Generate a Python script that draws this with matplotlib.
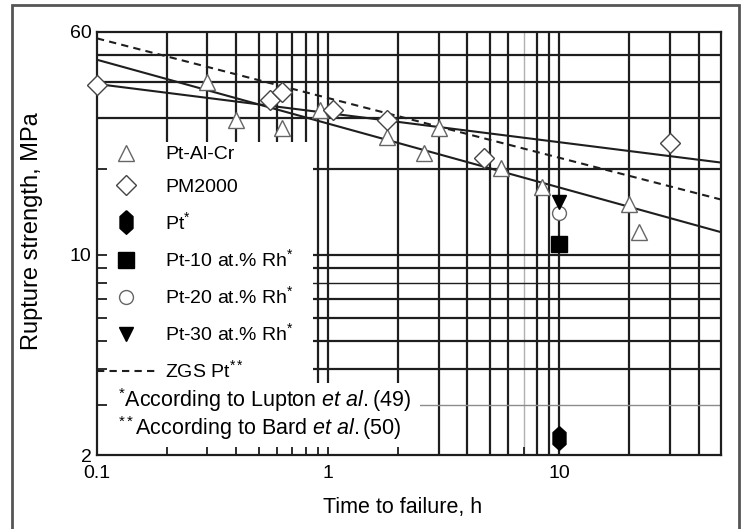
import matplotlib
matplotlib.use("Agg")
import matplotlib.pyplot as plt
from matplotlib.patches import Rectangle

plt.rcParams['font.family'] = ['Liberation Sans', 'DejaVu Sans']
plt.rcParams['mathtext.fontset'] = 'custom'
plt.rcParams['mathtext.rm'] = 'Liberation Sans'
plt.rcParams['mathtext.it'] = 'Liberation Sans:italic'

# ---- measured creep-rupture data (time h, stress MPa) ----
ptalcr_t = [0.3, 0.4, 0.63, 0.92, 1.8, 2.6, 3.0, 5.6, 8.4, 20, 22]
ptalcr_s = [40, 29.6, 27.8, 32, 25.8, 22.7, 27.8, 20.1, 17.3, 15.0, 12.0]

pm2000_t = [0.1, 0.56, 0.63, 1.05, 1.8, 4.7, 30]
pm2000_s = [39.2, 34.8, 37.1, 32.1, 29.6, 21.8, 24.6]

pt_t, pt_s = [10], [2.3]
pt10rh_t, pt10rh_s = [10], [10.9]
pt20rh_t, pt20rh_s = [10], [14.0]
pt30rh_t, pt30rh_s = [10], [15.3]

# ---- fitted lines (end points over plotted range) ----
fit_t = [0.1, 50]
ptalcr_fit = [48, 12]
pm2000_fit = [39.5, 21]
zgs_fit = [57, 15.6]

x_major = [0.1, 1, 10]
x_major_labels = ['0.1', '1', '10']
x_minor = [0.2, 0.3, 0.4, 0.5, 0.6, 0.7, 0.8, 0.9, 2, 3, 4, 5, 6, 7, 8, 9, 20, 30, 40]
y_major = [2, 10, 60]
y_major_labels = ['2', '10', '60']
y_minor = [3, 4, 5, 6, 7, 8, 9, 20, 30, 40, 50]

labels = ['Pt-Al-Cr', 'PM2000', 'Pt$^{*}$', 'Pt-10 at.% Rh$^{*}$',
          'Pt-20 at.% Rh$^{*}$', 'Pt-30 at.% Rh$^{*}$', 'ZGS Pt$^{**}$']
notes = [r'$^{*}$According to Lupton $\mathit{et\ al.}$(49)',
         r'$^{**}$According to Bard $\mathit{et\ al.}$(50)']

INK = '#1e1e1e'
W, H = 742, 529
fig = plt.figure(figsize=(W / 100, H / 100), dpi=100)
ax = fig.add_axes([97 / W, 1 - 455 / H, 624 / W, 423 / H])
ax.set_xscale('log')
ax.set_yscale('log')
ax.set_xlim(0.1, 50)
ax.set_ylim(2, 60)

# chart-paper style grid: every decade subdivision
grid_x = sorted(x_minor + [1, 10])
grid_y = sorted(y_minor + [10])
for gx in grid_x:
    c, w = ('#b0b0b0', 1.0) if gx == 7 else (INK, 1.6)
    ax.vlines(gx, 2, 60, colors=c, linewidth=w, zorder=0.8)
for gy in grid_y:
    c, w = ('#8c8c8c', 1.0) if gy == 3 else (INK, 1.0 if gy == 8 else 1.6)
    ax.hlines(gy, 0.1, 50, colors=c, linewidth=w, zorder=0.8)

# white areas behind legend and footnotes
ax.add_patch(Rectangle((0, 0.170), 0.346, 0.570, transform=ax.transAxes,
                       facecolor='white', edgecolor='none', zorder=1))
ax.add_patch(Rectangle((0, 0), 0.518, 0.170, transform=ax.transAxes,
                       facecolor='white', edgecolor='none', zorder=1))

# fits
ax.plot(fit_t, ptalcr_fit, color=INK, lw=1.5, zorder=2)
ax.plot(fit_t, pm2000_fit, color=INK, lw=1.5, zorder=2)
zgs, = ax.plot(fit_t, zgs_fit, color=INK, lw=1.5, dashes=(3.5, 2.5), zorder=2)

# data points
tri, = ax.plot(ptalcr_t, ptalcr_s, ls='none', marker='^', ms=11.5, mfc='white',
               mec='#666666', mew=1.0, zorder=3, clip_on=False)
dia, = ax.plot(pm2000_t, pm2000_s, ls='none', marker='D', ms=10, mfc='white',
               mec='#444444', mew=1.0, zorder=3, clip_on=False)
hexv = [(0, 1), (0.55, 0.5), (0.55, -0.5), (0, -1), (-0.55, -0.5), (-0.55, 0.5), (0, 1)]
pt, = ax.plot(pt_t, pt_s, ls='none', marker=hexv, ms=17, mfc='black',
              mec='black', zorder=3)
sq, = ax.plot(pt10rh_t, pt10rh_s, ls='none', marker='s', ms=12, mfc='black',
              mec='black', zorder=3)
circ, = ax.plot(pt20rh_t, pt20rh_s, ls='none', marker='o', ms=10, mfc='white',
                mec='#666666', mew=1.0, zorder=3)
dtri, = ax.plot(pt30rh_t, pt30rh_s, ls='none', marker='v', ms=10, mfc='black',
                mec='black', zorder=4)

leg = ax.legend([tri, dia, pt, sq, circ, dtri, zgs], labels,
                loc='upper left', bbox_to_anchor=(0, 0.731), frameon=False,
                fontsize=14, handlelength=3.0, handletextpad=0.5,
                labelspacing=0.78, borderpad=0, borderaxespad=0, numpoints=1)
leg.set_zorder(4)

ax.text(0.034, 0.130, notes[0], transform=ax.transAxes, fontsize=15.5,
        va='center', ha='left', zorder=4)
ax.text(0.034, 0.064, notes[1], transform=ax.transAxes, fontsize=15.5,
        va='center', ha='left', zorder=4)

# ticks and labels
ax.set_xticks(x_major)
ax.set_xticklabels(x_major_labels)
ax.set_xticks(x_minor, minor=True)
ax.set_xticklabels([], minor=True)
ax.set_yticks(y_major)
ax.set_yticklabels(y_major_labels)
ax.set_yticks(y_minor, minor=True)
ax.set_yticklabels([], minor=True)
ax.tick_params(which='both', direction='in', top=False, right=False,
               color=INK, width=1.3, labelsize=14)
ax.tick_params(axis='x', which='both', length=6, pad=7)
ax.tick_params(axis='y', which='both', length=7.5, pad=4)

for s in ax.spines.values():
    s.set_color(INK)
    s.set_linewidth(1.6)

ax.set_xlabel('Time to failure, h', fontsize=15.5)
ax.xaxis.set_label_coords(0.49, -0.100)
ax.set_ylabel('Rupture strength, MPa', fontsize=17)
ax.yaxis.set_label_coords(-0.086, 0.53)

# outer frame
fig.patches.append(Rectangle((12 / W, -0.02), (739 - 12) / W, 1.02 - 5 / H,
                             transform=fig.transFigure, fill=False,
                             edgecolor='#555555', linewidth=2))

fig.savefig('out.png', dpi=100)
